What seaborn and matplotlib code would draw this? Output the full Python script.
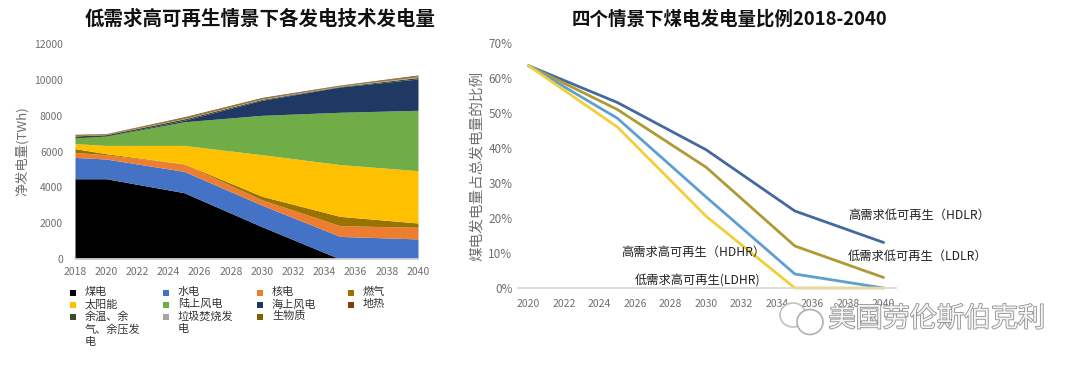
import numpy as np
import pandas as pd
import seaborn as sns
import matplotlib.pyplot as plt
import matplotlib.patheffects as pe
from matplotlib.patches import Rectangle, Ellipse

# left chart: generation by technology (TWh)
years = [2018, 2020, 2025, 2030, 2035, 2040]
coal = [4480, 4480, 3700, 1800, 0, 0]
hydro = [1190, 1100, 1190, 1200, 1260, 1120]
nuclear = [280, 240, 410, 300, 600, 650]
gas = [210, 60, 10, 200, 520, 240]
solar = [280, 460, 1030, 2320, 2890, 2920]
onshore = [310, 510, 1320, 2200, 2920, 3370]
offshore = [10, 10, 80, 840, 1410, 1750]
waste_heat = [110, 80, 80, 50, 30, 80]
garbage = [20, 15, 30, 30, 25, 50]
biomass = [40, 25, 50, 40, 30, 50]
geothermal = [30, 20, 40, 40, 25, 40]

tech_names = ['煤电', '水电', '核电', '燃气', '太阳能', '陆上风电', '海上风电', '余温、余\n气、余压发\n电', '垃圾焚烧发\n电', '生物质', '地热']
tech_colors = ['#000000', '#4472c4', '#ed7d31', '#997300', '#ffc000', '#70ad47', '#1f3864', '#3b4a2a', '#a5a5a5', '#7f6000', '#843c0c']

# right chart: coal share by scenario (%)
line_years = [2020, 2025, 2030, 2035, 2040]
hdlr = [63.5, 53, 39.5, 22, 13]
ldlr = [63.5, 51, 34.5, 12, 3]
hdhr = [63.5, 48.5, 26, 4, 0]
ldhr = [63.5, 46, 20.5, 0, 0]
scenarios = ['HDLR', 'LDLR', 'HDHR', 'LDHR']
line_colors = ['#44699f', '#b09a35', '#5f9fd0', '#f2cf3a']

sns.set_theme(style='white')
plt.rcParams['font.family'] = ['Noto Sans CJK SC', 'DejaVu Sans']
W, H = 1080, 368
grey = '#6f6f6f'

fig = plt.figure(figsize=(W / 100, H / 100), dpi=100)


def box(x0, y0, x1, y1):
    return [x0 / W, 1 - y1 / H, (x1 - x0) / W, (y1 - y0) / H]


ax = fig.add_axes(box(75, 44, 418, 259))
stacks = [coal, hydro, nuclear, gas, solar, onshore, offshore, waste_heat, garbage, biomass, geothermal]
ax.stackplot(years, stacks, colors=tech_colors, linewidth=0)
ax.set_xlim(2018, 2040)
ax.set_ylim(0, 12000)
ax.set_xticks(range(2018, 2041, 2))
ax.set_yticks(range(0, 12001, 2000))
ax.tick_params(axis='x', labelsize=7.5, colors=grey, length=0, pad=6)
ax.tick_params(axis='y', labelsize=7.5, colors=grey, length=0, pad=8.6)
sns.despine(ax=ax, left=True)
ax.spines['bottom'].set_color('#d9d9d9')
ax.set_ylabel('净发电量(TWh)', fontsize=9.5, color=grey, labelpad=3.5)
fig.text(260 / W, 1 - 19 / H, '低需求高可再生情景下各发电技术发电量', fontsize=14, fontweight='bold', color='#111111', ha='center', va='center')

ax2 = fig.add_axes(box(518, 43, 896, 288))
df = pd.DataFrame({'year': line_years, 'HDLR': hdlr, 'LDLR': ldlr, 'HDHR': hdhr, 'LDHR': ldhr})
df = df.melt(id_vars='year', var_name='scenario', value_name='share')
sns.lineplot(data=df, x='year', y='share', hue='scenario', hue_order=scenarios,
             palette=line_colors, linewidth=2, legend=False, ax=ax2, clip_on=False)
ax2.set_xlim(2019.4, 2040.7)
ax2.set_ylim(0, 70)
ax2.set_xticks(range(2020, 2041, 2))
ax2.set_yticks(range(0, 71, 10))
ax2.set_yticklabels([f'{v}%' for v in range(0, 71, 10)])
ax2.tick_params(axis='x', labelsize=7.5, colors=grey, length=0, pad=8)
ax2.tick_params(axis='y', labelsize=8.5, colors=grey, length=0, pad=4)
sns.despine(ax=ax2, left=True)
ax2.spines['bottom'].set_color('#d9d9d9')
ax2.set_xlabel('')
ax2.set_ylabel('煤电发电量占总发电量的比例', fontsize=10.5, color=grey, labelpad=3)
fig.text(729 / W, 1 - 19 / H, '四个情景下煤电发电量比例2018-2040', fontsize=13.3, fontweight='bold', color='#111111', ha='center', va='center')

note_kw = dict(fontsize=8.8, color='#222222', fontweight='medium', va='center', clip_on=False)
ax2.text(2038, 20.9, '高需求低可再生（HDLR）', **note_kw)
ax2.text(2038, 9.1, '低需求低可再生（LDLR）', **note_kw)
ax2.text(2025.2, 10.3, '高需求高可再生（HDHR）', **note_kw)
ax2.text(2026, 2.1, '低需求高可再生(LDHR)', **note_kw)

# pixel overlay for the legend and watermark
overlay = fig.add_axes([0, 0, 1, 1], facecolor='none')
overlay.set_xlim(0, W)
overlay.set_ylim(H, 0)
overlay.axis('off')

legend_cols = [73, 166, 260, 351]
legend_rows = [293, 305, 317]
legend_order = [[0, 4, 7], [1, 5, 8], [2, 6, 9], [3, 10]]
for col_x, col in zip(legend_cols, legend_order):
    for row_y, i in zip(legend_rows, col):
        overlay.add_patch(Rectangle((col_x - 3, row_y - 3), 6, 6, fc=tech_colors[i], ec='none'))
        overlay.text(col_x + 12, row_y - 6, tech_names[i], fontsize=8, color='#333333', va='top', ha='left', linespacing=1.25)

overlay.add_patch(Ellipse((793, 315), 26, 24, fc='white', ec='#c0c0c0', lw=1.2))
overlay.add_patch(Ellipse((810, 322), 26, 25, fc='white', ec='#b0b0b0', lw=1.2))
overlay.text(937, 319, '美国劳伦斯伯克利', fontsize=19.5, color='#f4f4f4', ha='center', va='center',
             path_effects=[pe.withStroke(linewidth=1.2, foreground='#8f8f8f')])

fig.savefig('out.png', dpi=100)
